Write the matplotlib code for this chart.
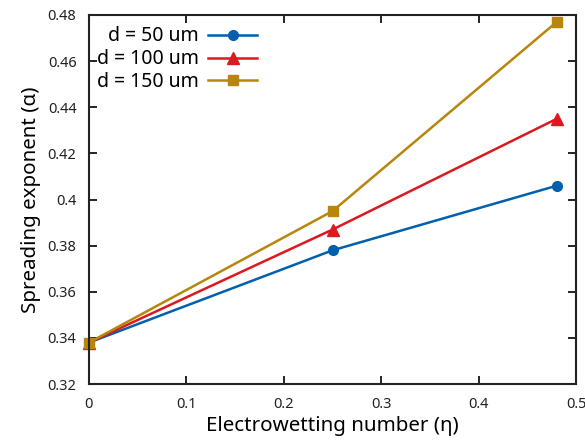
import matplotlib
matplotlib.use("Agg")
import matplotlib.pyplot as plt

plt.rcParams["font.family"] = ["Noto Sans", "DejaVu Sans"]

eta = [0.0, 0.25, 0.48]
alpha_d50 = [0.338, 0.378, 0.406]
alpha_d100 = [0.338, 0.387, 0.435]
alpha_d150 = [0.338, 0.395, 0.477]
labels = ["d = 50 um", "d = 100 um", "d = 150 um"]

x_ticks = [0, 0.1, 0.2, 0.3, 0.4, 0.5]
x_ticklabels = ["0", "0.1", "0.2", "0.3", "0.4", "0.5"]
y_ticks = [0.32, 0.34, 0.36, 0.38, 0.40, 0.42, 0.44, 0.46, 0.48]
y_ticklabels = ["0.32", "0.34", "0.36", "0.38", "0.4", "0.42", "0.44", "0.46", "0.48"]


def main() -> None:
    fig = plt.figure(figsize=(5.85, 4.41), dpi=100)
    ax = fig.add_axes([0.152, 0.129, 0.833, 0.837])

    series = [
        (alpha_d50, "#0060ad", "o", 7),
        (alpha_d100, "#dd181f", "^", 8),
        (alpha_d150, "#b8860b", "s", 7),
    ]
    for (vals, col, mk, ms), lab in zip(series, labels):
        ax.plot(eta, vals, color=col, marker=mk, markersize=ms,
                linewidth=1.8, label=lab, clip_on=False)

    ax.set_xlim(0, 0.5)
    ax.set_ylim(0.32, 0.48)
    ax.set_xticks(x_ticks)
    ax.set_xticklabels(x_ticklabels)
    ax.set_yticks(y_ticks)
    ax.set_yticklabels(y_ticklabels)
    ax.tick_params(direction="in", top=True, right=True, length=6,
                   width=1.2, labelsize=10.5, pad=9, labelcolor="#222222")

    for sp in ax.spines.values():
        sp.set_linewidth(1.5)
        sp.set_color("#222222")

    ax.set_xlabel("Electrowetting number (η)", fontsize=14.8, labelpad=3)
    ax.set_ylabel("Spreading exponent (α)", fontsize=14.8, labelpad=5)

    ax.legend(loc="upper left", frameon=False, markerfirst=False,
              fontsize=14, handlelength=2.5, borderaxespad=0.0,
              labelspacing=0.15, handletextpad=0.5, bbox_to_anchor=(0.0, 0.99))

    fig.savefig("out.png", dpi=100)


if __name__ == "__main__":
    main()
